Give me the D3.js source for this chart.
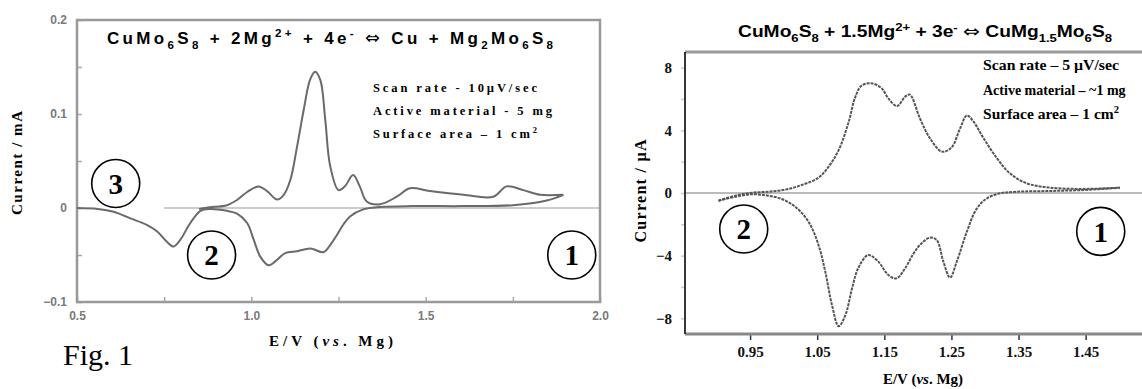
<!DOCTYPE html>
<html>
<head>
<meta charset="utf-8">
<script src="https://cdn.jsdelivr.net/npm/d3@7"></script>
<style>
  body { margin: 0; background: #fff; }
  svg { display: block; }
</style>
</head>
<body>
<div id="chart"></div>
<script>

// data (E in V, I in mA / uA)

var leftCathodic = [[0.50,0.000],[0.56,-0.001],[0.605,-0.004],[0.653,-0.011],[0.70,-0.018],[0.73,-0.025],
    [0.758,-0.036],[0.777,-0.041],[0.796,-0.034],[0.825,-0.016],[0.854,-0.003],[0.88,-0.001],[0.93,-0.003],
    [0.959,-0.006],[0.988,-0.016],[1.007,-0.034],[1.026,-0.052],[1.05,-0.061],[1.074,-0.055],[1.097,-0.048],
    [1.131,-0.046],[1.169,-0.043],[1.207,-0.047],[1.225,-0.040],[1.245,-0.029],[1.265,-0.017],[1.283,-0.009],
    [1.321,-0.0015],[1.369,0.001],[1.464,0.002],[1.607,0.002],[1.75,0.003],[1.847,0.008],[1.895,0.014]];

var leftAnodic = [[0.85,-0.001],[0.88,0.0007],[0.93,0.003],[0.959,0.0085],[0.988,0.017],[1.021,0.023],
    [1.045,0.018],[1.074,0.009],[1.093,0.014],[1.112,0.030],[1.131,0.065],[1.150,0.104],[1.169,0.137],
    [1.183,0.145],[1.198,0.136],[1.212,0.094],[1.226,0.045],[1.250,0.019],[1.268,0.023],[1.292,0.035],
    [1.311,0.023],[1.331,0.007],[1.369,0.004],[1.417,0.012],[1.455,0.021],[1.512,0.018],[1.608,0.014],
    [1.694,0.012],[1.732,0.023],[1.780,0.019],[1.828,0.014],[1.895,0.014]];

var rightCathodic = [[0.903,-0.49],[0.928,-0.24],[0.953,-0.08],[0.977,-0.17],[0.997,-0.38],[1.017,-0.87],
    [1.037,-1.83],[1.052,-3.32],[1.062,-5.02],[1.072,-7.15],[1.082,-8.5],[1.092,-7.79],[1.102,-6.08],
    [1.111,-4.81],[1.126,-3.96],[1.141,-4.38],[1.156,-5.23],[1.168,-5.45],[1.181,-4.81],[1.193,-3.9],
    [1.203,-3.32],[1.218,-2.85],[1.228,-3.0],[1.238,-4.38],[1.248,-5.40],[1.258,-4.38],[1.273,-2.47],
    [1.288,-0.98],[1.303,-0.34],[1.323,-0.02],[1.347,0.08],[1.397,0.13],[1.447,0.19],[1.501,0.34]];

var rightAnodic = [[0.903,-0.49],[0.928,-0.17],[0.953,0.02],[0.977,0.08],[1.002,0.21],[1.027,0.51],
    [1.052,0.98],[1.067,1.68],[1.082,2.74],[1.097,4.55],[1.106,6.04],[1.116,6.85],[1.131,7.0],[1.146,6.68],
    [1.156,6.04],[1.169,5.55],[1.181,6.15],[1.188,6.28],[1.203,4.77],[1.218,3.49],[1.236,2.64],[1.250,2.9],
    [1.263,4.13],[1.273,4.95],[1.283,4.55],[1.298,3.49],[1.318,2.21],[1.337,1.26],[1.362,0.62],[1.397,0.34],
    [1.447,0.26],[1.501,0.34]];

var leftYTicks = [0.2, 0.1, 0, -0.1],
    leftYMinor = [0.15, 0.05, -0.05],
    leftXTicks = [0.5, 1.0, 1.5, 2.0],
    leftXMinor = [0.75, 1.25, 1.75],
    rightYTicks = [8, 4, 0, -4, -8],
    rightYMinor = [6, 2, -2, -6],
    rightXTicks = [0.95, 1.05, 1.15, 1.25, 1.35, 1.45];

var leftTitle = [["CuMo",""],["6","sub"],["S",""],["8","sub"],[" + 2Mg",""],["2+","sup"],[" + 4e",""],["-","sup"],
    [" ",""],["\u21D4","sym"],[" Cu + Mg",""],["2","sub"],["Mo",""],["6","sub"],["S",""],["8","sub"]];
var rightTitle = [["CuMo",""],["6","sub"],["S",""],["8","sub"],[" + 1.5Mg",""],["2+","sup"],[" + 3e",""],["-","sup"],
    [" ",""],["\u21D4","sym"],[" CuMg",""],["1.5","sub"],["Mo",""],["6","sub"],["S",""],["8","sub"]];
var leftNotes = [[["Scan rate - 10\u00B5V/sec",""]],[["Active material - 5 mg",""]],[["Surface area \u2013 1 cm",""],["2","sup"]]];
var rightNotes = [[["Scan rate \u2013 5 \u00B5V/sec",""]],[["Active material \u2013 ~1 mg",""]],[["Surface area \u2013 1 cm",""],["2","sup"]]];

var W = 1142, H = 389;
var serif = "'Liberation Serif','Times New Roman',serif",
    sans = "'Liberation Sans',Arial,sans-serif";

var svg = d3.select("#chart").append("svg")
    .attr("width", W)
    .attr("height", H);

// writes text with sub/superscripts as tspans
function rich(sel, parts, size) {
    var off = 0;
    parts.forEach(function(p) {
        var target = p[1] == "sub" ? size*0.3 : (p[1] == "sup" ? -size*0.4 : 0);
        var t = sel.append("tspan").text(p[0]).attr("dy", target - off);
        if (p[1] == "sub" || p[1] == "sup") t.attr("font-size", size*0.68);
        if (p[1] == "sym") t.style("font-family", "'DejaVu Sans'").style("font-weight", "normal").attr("font-size", size*1.05);
        off = target;
    });
}

// ---------------- left panel ----------------

var xL = d3.scaleLinear().domain([0.5, 2.0]).range([77, 600]),
    yL = d3.scaleLinear().domain([-0.1, 0.2]).range([302, 20]);

var left = svg.append("g");

left.append("line")
    .attr("x1", xL(0.75)).attr("x2", xL(2.0))
    .attr("y1", yL(0)).attr("y2", yL(0))
    .attr("stroke", "#bbb").attr("stroke-width", 1.6);

left.append("g")
    .attr("transform", "translate(" + xL(0.5) + ",0)")
    .call(d3.axisLeft(yL).tickValues(leftYTicks).tickSize(-5).tickPadding(10)
        .tickFormat(function(d) { return d == 0 ? "0" : d3.format(".1f")(d); }));
left.append("g")
    .attr("transform", "translate(" + xL(0.5) + ",0)")
    .call(d3.axisLeft(yL).tickValues(leftYMinor).tickSize(-5).tickFormat(""));

left.append("g")
    .attr("transform", "translate(0," + yL(-0.1) + ")")
    .call(d3.axisBottom(xL).tickValues(leftXTicks).tickSize(-5).tickPadding(9).tickFormat(d3.format(".1f")));
left.append("g")
    .attr("transform", "translate(0," + yL(-0.1) + ")")
    .call(d3.axisBottom(xL).tickValues(leftXMinor).tickSize(-5).tickFormat(""));

left.selectAll(".domain").remove();
left.selectAll(".tick line").attr("stroke", "#aaa").attr("stroke-width", 1.5);
left.selectAll(".tick text")
    .attr("fill", "#7a7a7a")
    .style("font-family", sans)
    .style("font-weight", "bold")
    .style("font-size", "12px");

left.append("rect")
    .attr("x", xL(0.5)).attr("y", yL(0.2))
    .attr("width", xL(2.0) - xL(0.5)).attr("height", yL(-0.1) - yL(0.2))
    .attr("fill", "none").attr("stroke", "#999").attr("stroke-width", 2.5);

var lineL = d3.line().x(d => xL(d[0])).y(d => yL(d[1])).curve(d3.curveCatmullRom);

[leftCathodic, leftAnodic].forEach(function(s) {
    left.append("path")
        .datum(s)
        .attr("d", lineL)
        .attr("fill", "none")
        .attr("stroke", "#6a6a6a")
        .attr("stroke-width", 2);
});

var tl = left.append("text")
    .attr("x", 107).attr("y", 44)
    .attr("textLength", 446).attr("lengthAdjust", "spacing")
    .style("font-family", sans).style("font-weight", "bold").style("font-size", "17px");
rich(tl, leftTitle, 17);

leftNotes.forEach(function(n, i) {
    var t = left.append("text")
        .attr("x", 373).attr("y", 92 + i*23)
        .attr("textLength", [164, 179, 164][i]).attr("lengthAdjust", "spacing")
        .style("font-family", serif).style("font-weight", "bold").style("font-size", "12.5px");
    rich(t, n, 12.5);
});

left.append("text")
    .attr("transform", "translate(22," + 163 + ") rotate(-90)")
    .attr("text-anchor", "middle")
    .attr("textLength", 104).attr("lengthAdjust", "spacing")
    .style("font-family", serif).style("font-weight", "bold").style("font-size", "15px")
    .text("Current / mA");

var xl = left.append("text")
    .attr("x", 331).attr("y", 346)
    .attr("text-anchor", "middle")
    .attr("textLength", 124).attr("lengthAdjust", "spacing")
    .style("font-family", serif).style("font-weight", "bold").style("font-size", "15px");
xl.append("tspan").text("E/V  (");
xl.append("tspan").style("font-style", "italic").text("vs");
xl.append("tspan").text(". Mg)");

left.append("text")
    .attr("x", 63).attr("y", 365)
    .style("font-family", serif).style("font-size", "30px")
    .text("Fig. 1");

// ---------------- right panel ----------------

var xR = d3.scaleLinear().domain([0.853, 1.534]).range([685, 1142]),
    yR = d3.scaleLinear().domain([-9, 9]).range([334, 52]);

var right = svg.append("g");

right.append("line")
    .attr("x1", xR(0.853)).attr("x2", W)
    .attr("y1", yR(0)).attr("y2", yR(0))
    .attr("stroke", "#bbb").attr("stroke-width", 2);

right.append("g")
    .attr("transform", "translate(" + xR(0.853) + ",0)")
    .call(d3.axisLeft(yR).tickValues(rightYTicks).tickSize(4).tickPadding(9).tickFormat(d3.format("d")));
right.append("g")
    .attr("transform", "translate(" + xR(0.853) + ",0)")
    .call(d3.axisLeft(yR).tickValues(rightYMinor).tickSize(4).tickFormat(""));
right.append("g")
    .attr("class", "xr")
    .attr("transform", "translate(0," + yR(-9) + ")")
    .call(d3.axisBottom(xR).tickValues(rightXTicks).tickSize(6).tickPadding(6).tickFormat(d3.format(".2f")));

right.selectAll(".domain").remove();
right.selectAll(".tick line").attr("stroke", "#ccc").attr("stroke-width", 1.5);
right.selectAll(".xr .tick line").attr("stroke", "#333");
right.selectAll(".tick text")
    .attr("fill", "#111")
    .style("font-family", serif)
    .style("font-weight", "bold")
    .style("font-size", "15px");

right.append("line")
    .attr("x1", xR(0.853)).attr("x2", W).attr("y1", yR(9)).attr("y2", yR(9))
    .attr("stroke", "#999").attr("stroke-width", 3);
right.append("line")
    .attr("x1", xR(0.853)).attr("x2", W).attr("y1", yR(-9)).attr("y2", yR(-9))
    .attr("stroke", "#888").attr("stroke-width", 3);
right.append("line")
    .attr("x1", xR(0.853)).attr("x2", xR(0.853)).attr("y1", yR(9)).attr("y2", yR(-9))
    .attr("stroke", "#222").attr("stroke-width", 1.8);

var lineR = d3.line().x(d => xR(d[0])).y(d => yR(d[1])).curve(d3.curveCatmullRom);

[rightCathodic, rightAnodic].forEach(function(s) {
    right.append("path")
        .datum(s)
        .attr("d", lineR)
        .attr("fill", "none")
        .attr("stroke", "#555")
        .attr("stroke-width", 2)
        .attr("stroke-dasharray", "3,1");
});

var tr = right.append("text")
    .attr("x", 738).attr("y", 37)
    .attr("textLength", 374).attr("lengthAdjust", "spacingAndGlyphs")
    .style("font-family", sans).style("font-weight", "bold").style("font-size", "16px");
rich(tr, rightTitle, 16);

rightNotes.forEach(function(n, i) {
    var t = right.append("text")
        .attr("x", 983).attr("y", 70 + i*24.5)
        .style("font-family", serif).style("font-weight", "bold").style("font-size", "14px");
    if (i != 1) t.attr("textLength", 136).attr("lengthAdjust", "spacingAndGlyphs");
    rich(t, n, 14);
});

right.append("text")
    .attr("transform", "translate(646," + 191 + ") rotate(-90)")
    .attr("text-anchor", "middle")
    .attr("textLength", 103).attr("lengthAdjust", "spacing")
    .style("font-family", serif).style("font-weight", "bold").style("font-size", "16px")
    .text("Current / \u00B5A");

var xr = right.append("text")
    .attr("x", 923).attr("y", 384)
    .attr("text-anchor", "middle")
    .style("font-family", serif).style("font-weight", "bold").style("font-size", "15px");
xr.append("tspan").text("E/V (");
xr.append("tspan").style("font-style", "italic").text("vs");
xr.append("tspan").text(". Mg)");

// ---------------- circled labels ----------------

var marks = [
    {g: left, x: xL(0.611), y: yL(0.026), t: "3"},
    {g: left, x: xL(0.886), y: yL(-0.050), t: "2"},
    {g: left, x: xL(1.919), y: yL(-0.050), t: "1"},
    {g: right, x: xR(0.9405), y: yR(-2.3), t: "2"},
    {g: right, x: xR(1.4725), y: yR(-2.45), t: "1"}
];

marks.forEach(function(m) {
    m.g.append("circle")
        .attr("cx", m.x).attr("cy", m.y).attr("r", 24)
        .attr("fill", "none").attr("stroke", "#000").attr("stroke-width", 1.6);
    m.g.append("text")
        .attr("x", m.x).attr("y", m.y).attr("dy", "0.36em")
        .attr("text-anchor", "middle")
        .style("font-family", serif).style("font-weight", "bold").style("font-size", "29px")
        .text(m.t);
});

</script>
</body>
</html>
